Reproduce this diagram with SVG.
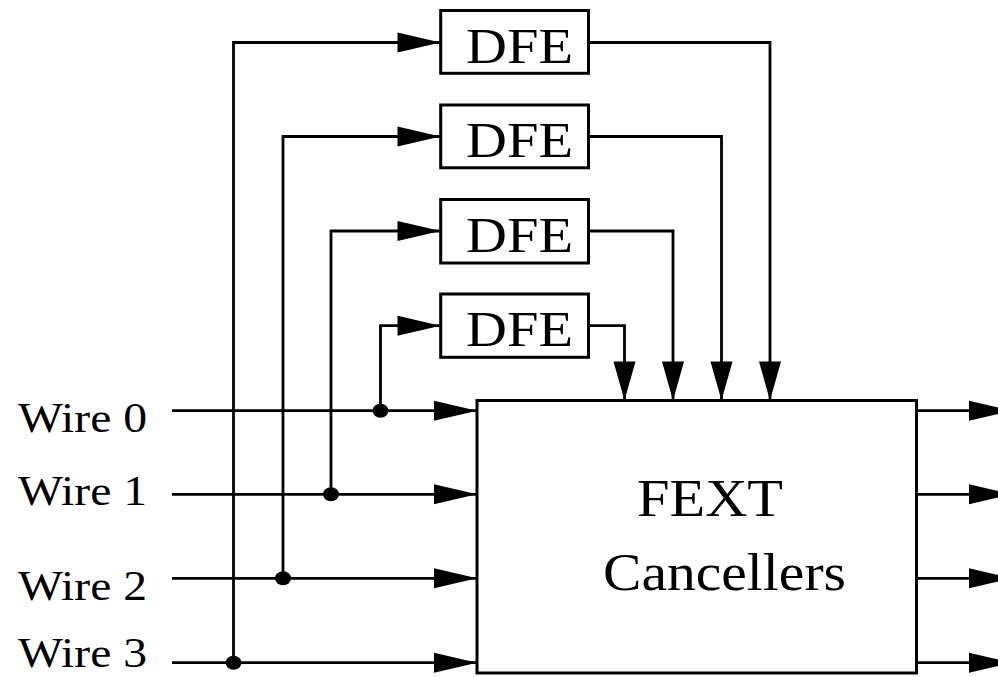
<svg xmlns="http://www.w3.org/2000/svg" width="998" height="677" viewBox="0 0 998 677">
<defs>
<marker id="arr" markerUnits="userSpaceOnUse" markerWidth="44" markerHeight="22" refX="43" refY="10" orient="auto" overflow="visible">
<path d="M0,0 L43,10 L0,20 z" fill="#000"/>
</marker>
<marker id="arrD" markerUnits="userSpaceOnUse" markerWidth="40" markerHeight="24" refX="39" refY="11" orient="auto" overflow="visible">
<path d="M0,0 L39,11 L0,22 z" fill="#000"/>
</marker>
</defs>
<style>
.box{fill:#fff;stroke:#000;stroke-width:3}
.ln{fill:none;stroke:#000;stroke-width:2.8}
.t{font-family:"Liberation Serif","Times New Roman",serif;fill:#000}
.dot{fill:#000}
</style>
<rect width="998" height="677" fill="#fff"/>
<g id="connectors">
<path class="ln" d="M172,410.7 H477" marker-end="url(#arr)"/>
<path class="ln" d="M172,494.3 H477" marker-end="url(#arr)"/>
<path class="ln" d="M172,578.3 H477" marker-end="url(#arr)"/>
<path class="ln" d="M172,662.7 H477" marker-end="url(#arr)"/>
<path class="ln" d="M233.5,662.7 V42.5 H440.5" marker-end="url(#arr)"/>
<path class="ln" d="M283,578.3 V136.5 H440.5" marker-end="url(#arr)"/>
<path class="ln" d="M331,494.3 V231 H440.5" marker-end="url(#arr)"/>
<path class="ln" d="M380.5,410.7 V325.7 H440.5" marker-end="url(#arr)"/>
<path class="ln" d="M588.5,42.5 H770 V400.5" marker-end="url(#arrD)"/>
<path class="ln" d="M588.5,136.5 H721.5 V400.5" marker-end="url(#arrD)"/>
<path class="ln" d="M588.5,231 H673 V400.5" marker-end="url(#arrD)"/>
<path class="ln" d="M588.5,325.7 H624.5 V400.5" marker-end="url(#arrD)"/>
<path class="ln" d="M916.5,410.7 H1012" marker-end="url(#arr)"/>
<path class="ln" d="M916.5,494.3 H1012" marker-end="url(#arr)"/>
<path class="ln" d="M916.5,578.3 H1012" marker-end="url(#arr)"/>
<path class="ln" d="M916.5,662.7 H1012" marker-end="url(#arr)"/>
<ellipse class="dot" cx="380.5" cy="410.7" rx="8" ry="7"/>
<ellipse class="dot" cx="331" cy="494.3" rx="8" ry="7"/>
<ellipse class="dot" cx="283" cy="578.3" rx="8" ry="7"/>
<ellipse class="dot" cx="233.5" cy="662.7" rx="8" ry="7"/>
</g>
<g id="dfe1">
<rect class="box" x="440.7" y="10.5" width="147.8" height="62.8"/>
<text class="t" x="466" y="63" font-size="50" textLength="107" lengthAdjust="spacingAndGlyphs">DFE</text>
</g>
<g id="dfe2">
<rect class="box" x="440.7" y="105" width="147.8" height="62.8"/>
<text class="t" x="466" y="157" font-size="50" textLength="107" lengthAdjust="spacingAndGlyphs">DFE</text>
</g>
<g id="dfe3">
<rect class="box" x="440.7" y="199.5" width="147.8" height="63.5"/>
<text class="t" x="466" y="251.5" font-size="50" textLength="107" lengthAdjust="spacingAndGlyphs">DFE</text>
</g>
<g id="dfe4">
<rect class="box" x="440.7" y="294" width="147.8" height="63.3"/>
<text class="t" x="466" y="346" font-size="50" textLength="107" lengthAdjust="spacingAndGlyphs">DFE</text>
</g>
<g id="fext">
<rect class="box" x="477" y="400.5" width="439.5" height="272.5"/>
<text class="t" x="637" y="516" font-size="52" textLength="146" lengthAdjust="spacingAndGlyphs">FEXT</text>
<text class="t" x="603" y="590" font-size="52" textLength="243" lengthAdjust="spacingAndGlyphs">Cancellers</text>
</g>
<g id="labels">
<text class="t" x="18" y="431.7" font-size="43" textLength="129" lengthAdjust="spacingAndGlyphs">Wire 0</text>
<text class="t" x="18" y="505" font-size="43" textLength="129" lengthAdjust="spacingAndGlyphs">Wire 1</text>
<text class="t" x="18" y="600" font-size="43" textLength="129" lengthAdjust="spacingAndGlyphs">Wire 2</text>
<text class="t" x="18" y="667" font-size="43" textLength="129" lengthAdjust="spacingAndGlyphs">Wire 3</text>
</g>
</svg>
